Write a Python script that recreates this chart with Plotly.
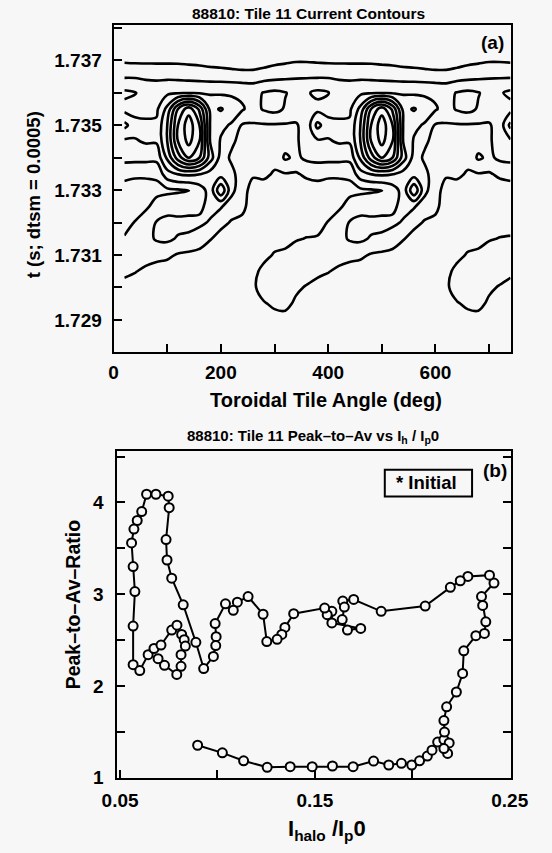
import plotly.graph_objects as go

# ---------------- Panel (a): tile-current field, one toroidal period ----------------
BASE_ANGLE = [0, 20, 40, 60, 80, 100, 120, 140, 160, 180, 200, 220, 240, 260, 280, 300, 320, 340]
# rows listed from t = 1.7380 (top) down to t = 1.7280 (bottom)
BASE_ROWS_TOP_DOWN = [
    [0.3] * 18,
    [0.5] * 18,
    [0.9, 0.85, 0.8, 0.8, 0.8, 0.8, 0.8, 0.75, 0.7, 0.6, 0.5, 0.4, 0.3, 0.3, 0.5, 0.7, 0.8, 0.9],
    [1.9, 1.9, 1.9, 1.85, 1.8, 1.8, 1.75, 1.7, 1.65, 1.6, 1.6, 1.55, 1.5, 1.5, 1.6, 1.7, 1.8, 1.9],
    [2.9, 3.2, 3.05, 2.6, 2.6, 2.8, 2.9, 2.9, 2.9, 2.9, 2.85, 2.85, 2.8, 2.7, 3.05, 3.2, 3.05, 2.7],
    [2.6, 2.7, 2.6, 2.7, 2.8, 4.3, 7.0, 8.6, 6.8, 3.7, 4.1, 3.5, 3.1, 2.6, 3.1, 3.3, 2.9, 2.5],
    [2.4, 4.3, 3.4, 3.2, 3.2, 5.0, 8.0, 9.6, 8.0, 3.95, 3.2, 2.9, 1.9, 1.9, 1.9, 1.9, 1.9, 1.9],
    [2.6, 2.8, 2.9, 3.1, 3.1, 5.0, 8.0, 9.3, 8.0, 3.95, 2.9, 2.2, 1.6, 1.6, 1.6, 1.5, 1.6, 1.8],
    [2.2, 2.3, 2.3, 2.3, 2.3, 4.2, 6.5, 8.0, 7.0, 4.5, 2.6, 1.8, 1.5, 1.4, 1.2, 1.3, 2.15, 1.8],
    [1.2, 1.3, 1.2, 1.2, 1.2, 2.6, 3.05, 3.2, 3.05, 2.6, 2.5, 2.3, 1.4, 1.1, 1.2, 0.9, 0.95, 0.9],
    [0.5, 0.6, 0.5, 0.5, 0.7, 0.8, 0.9, 0.95, 1.5, 2.4, 4.9, 2.3, 1.3, 0.7, 0.6, 0.6, 0.6, 0.5],
    [0.4, 0.5, 0.6, 0.8, 1.4, 1.6, 1.5, 1.6, 1.8, 2.3, 2.1, 1.5, 1.2, 0.6, 0.4, 0.4, 0.4, 0.4],
    [0.5, 0.6, 1.05, 1.6, 2.05, 2.3, 2.3, 2.3, 2.2, 1.9, 1.3, 0.9, 0.8, 0.4, 0.3, 0.4, 0.4, 0.5],
    [1.05, 1.1, 1.5, 1.7, 2.1, 2.2, 1.9, 1.8, 1.5, 1.05, 0.6, 0.4, 0.3, 0.3, 0.3, 0.6, 0.7, 0.9],
    [1.7, 1.5, 1.6, 1.4, 1.3, 1.2, 0.9, 0.8, 0.7, 0.6, 0.5, 0.3, 0.3, 0.3, 0.7, 1.1, 1.2, 1.6],
    [1.5, 1.2, 1.05, 0.8, 0.6, 0.5, 0.5, 0.4, 0.4, 0.3, 0.3, 0.3, 0.3, 0.7, 1.3, 1.6, 1.7, 1.6],
    [0.9, 0.7, 0.5, 0.4, 0.3, 0.3, 0.3, 0.3, 0.3, 0.3, 0.3, 0.3, 0.3, 0.8, 1.5, 1.8, 1.9, 1.2],
    [0.5, 0.4, 0.3, 0.3, 0.3, 0.3, 0.3, 0.3, 0.3, 0.3, 0.3, 0.3, 0.3, 0.5, 0.9, 1.2, 1.3, 0.8],
    [0.3, 0.3, 0.3, 0.3, 0.3, 0.3, 0.3, 0.3, 0.3, 0.3, 0.3, 0.3, 0.3, 0.3, 0.4, 0.6, 0.6, 0.4],
    [0.2] * 18,
    [0.2] * 18,
]
TIMES = [1.7280, 1.7285, 1.7290, 1.7295, 1.7300, 1.7305, 1.7310, 1.7315, 1.7320, 1.7325,
         1.7330, 1.7335, 1.7340, 1.7345, 1.7350, 1.7355, 1.7360, 1.7365, 1.7370, 1.7375, 1.7380]
# the chart shows two toroidal turns, starting at tile angle 20 deg
TILE_ANGLE = [20, 40, 60, 80, 100, 120, 140, 160, 180, 200, 220, 240, 260, 280, 300, 320, 340, 360,
              380, 400, 420, 440, 460, 480, 500, 520, 540, 560, 580, 600, 620, 640, 660, 680, 700, 720, 740]

rows_up = list(reversed(BASE_ROWS_TOP_DOWN))
Z = [[row[BASE_ANGLE.index(a % 360)] for a in TILE_ANGLE] for row in rows_up]

A_XTICKS = [0, 200, 400, 600]
A_XMINOR = [100, 300, 500, 700]
A_YTICKS = [1.729, 1.731, 1.733, 1.735, 1.737]
A_YMINOR = [1.728, 1.730, 1.732, 1.734, 1.736, 1.738]

# ---------------- Panel (b): peak-to-average ratio vs halo fraction ----------------
HALO = [0.0898, 0.1025, 0.1134, 0.1255, 0.1373, 0.1486, 0.1590, 0.1696, 0.1801, 0.1879,
        0.1944, 0.1997, 0.2037, 0.2077, 0.2101, 0.2130, 0.2162, 0.2189, 0.2181, 0.2162,
        0.2165, 0.2162, 0.2176, 0.2226, 0.2258, 0.2264, 0.2326, 0.2370, 0.2377, 0.2361,
        0.2355, 0.2419, 0.2396, 0.2285, 0.2246, 0.2195, 0.2066, 0.1840, 0.1699, 0.1643,
        0.1651, 0.1640, 0.1667, 0.1735, 0.1587, 0.1587, 0.1563, 0.1550, 0.1391, 0.1346,
        0.1330, 0.1306, 0.1253, 0.1234, 0.1157, 0.1102, 0.1081, 0.1041, 0.0988, 0.0993,
        0.0991, 0.0979, 0.0929, 0.0889, 0.0824, 0.0765, 0.0741, 0.0736, 0.0752, 0.0747,
        0.0684, 0.0636, 0.0611, 0.0588, 0.0571, 0.0559, 0.0567, 0.0576, 0.0567, 0.0567,
        0.0601, 0.0644, 0.0674, 0.0710, 0.0765, 0.0792, 0.0816, 0.0829, 0.0835, 0.0813,
        0.0813, 0.0791, 0.0728, 0.0695]
PEAK = [1.355, 1.272, 1.186, 1.115, 1.122, 1.122, 1.129, 1.122, 1.183, 1.140,
        1.158, 1.140, 1.186, 1.237, 1.301, 1.390, 1.416, 1.380, 1.266, 1.319,
        1.498, 1.624, 1.774, 1.935, 2.137, 2.384, 2.548, 2.573, 2.699, 2.878,
        2.975, 3.122, 3.208, 3.194, 3.147, 3.075, 2.871, 2.814, 2.943, 2.925,
        2.860, 2.724, 2.610, 2.627, 2.688, 2.814, 2.777, 2.849, 2.788, 2.638,
        2.562, 2.509, 2.484, 2.782, 2.975, 2.914, 2.825, 2.896, 2.681, 2.538,
        2.441, 2.323, 2.190, 2.476, 2.885, 3.175, 3.373, 3.595, 3.943, 4.068,
        4.089, 4.089, 3.900, 3.803, 3.710, 3.559, 3.301, 3.029, 2.653, 2.233,
        2.169, 2.341, 2.409, 2.446, 2.610, 2.663, 2.562, 2.505, 2.435, 2.341,
        2.215, 2.126, 2.226, 2.298]
B_XTICKS = [0.05, 0.15, 0.25]
B_XMINOR = [0.10, 0.20]
B_YTICKS = [1, 2, 3, 4]
B_YMINOR = [1.5, 2.5, 3.5, 4.5]

# ---------------- styling ----------------
W, H = 552, 853
BG = "#f7f7f7"
FONT = "Liberation Sans Narrow, Arial Narrow, Liberation Sans, Arial, sans-serif"


def px(x):
    return x / W


def py(y):
    return 1 - y / H


fig = go.Figure()
fig.add_trace(go.Contour(
    x=TILE_ANGLE, y=TIMES, z=Z, xaxis="x", yaxis="y",
    contours=dict(coloring="lines", start=1, end=9, size=1),
    line=dict(width=2.6, smoothing=1.0),
    colorscale=[[0, "black"], [1, "black"]], showscale=False,
    hoverinfo="skip"))
fig.add_trace(go.Scatter(
    x=HALO, y=PEAK, xaxis="x2", yaxis="y2", mode="lines+markers",
    line=dict(color="black", width=2),
    marker=dict(symbol="circle", size=9, color=BG, line=dict(color="black", width=2)),
    hoverinfo="skip", showlegend=False))

tickfont = dict(family=FONT, size=19, color="black", weight="bold")
common = dict(showline=True, linewidth=2, linecolor="black", showgrid=False, zeroline=False,
              ticks="inside", ticklen=8, tickwidth=2, tickcolor="black", tickfont=tickfont,
              tickmode="array")


def minor(vals):
    return dict(tickmode="array", tickvals=vals, ticks="inside", ticklen=8, tickwidth=2,
                tickcolor="black", showgrid=False)


fig.update_layout(
    width=W, height=H, margin=dict(l=0, r=0, t=0, b=0),
    paper_bgcolor=BG, plot_bgcolor=BG, showlegend=False, hovermode=False,
    xaxis=dict(domain=[px(104), px(527)], range=[0, 740], anchor="y", mirror=True,
               tickvals=A_XTICKS, minor=minor(A_XMINOR), ticklabelstandoff=2, **common),
    yaxis=dict(domain=[py(357), py(25)], range=[1.728, 1.7381], anchor="x", mirror=True,
               tickvals=A_YTICKS, minor=minor(A_YMINOR), tickformat=".3f", ticklabelstandoff=6, **common),
    xaxis2=dict(domain=[px(108), px(527)], range=[0.0486, 0.2504], anchor="y2", mirror=True,
                tickvals=B_XTICKS, minor=minor(B_XMINOR), tickformat=".2f", ticklabelstandoff=4, **common),
    yaxis2=dict(domain=[py(788), py(457)], range=[1.0, 4.559], anchor="x2", mirror="ticks",
                tickvals=B_YTICKS, minor=minor(B_YMINOR), ticklabelstandoff=8, **common),
)


def txt(x, y, s, size, angle=0, anchor="center", **kw):
    fig.add_annotation(x=px(x), y=py(y), xref="paper", yref="paper", text=s, showarrow=False,
                       textangle=angle, xanchor=anchor, yanchor="middle",
                       font=dict(family=FONT, size=size, color="black", weight="bold"), **kw)


txt(312, 14, "88810: Tile 11 Current Contours", 15.5)
txt(508, 43, "(a)", 19)
txt(19, 197, "t (s; dtsm = 0.0005)", 18.5, angle=-90)
txt(330, 405, "Toroidal Tile Angle (deg)", 20)
txt(317, 442, "88810: Tile 11 Peak\u2013to\u2013Av vs I<sub>h</sub> / I<sub>p</sub>0", 15)
txt(510, 477, "(b)", 19)
# legend box for the initial-point marker
fig.add_shape(type="rect", xref="paper", yref="paper", x0=px(393), x1=px(486), y0=py(503), y1=py(476),
              line=dict(color="black", width=2), fillcolor=BG)
txt(403, 489, "* Initial", 18.5, anchor="left")
txt(61, 612, "Peak\u2013to\u2013Av\u2013Ratio", 19.5, angle=-90)
txt(331, 841, "I<sub>halo</sub> /I<sub>p</sub>0", 22)

fig.write_html("out.html", config={"displayModeBar": False, "staticPlot": True},
               post_script="document.body.style.margin='0';")
